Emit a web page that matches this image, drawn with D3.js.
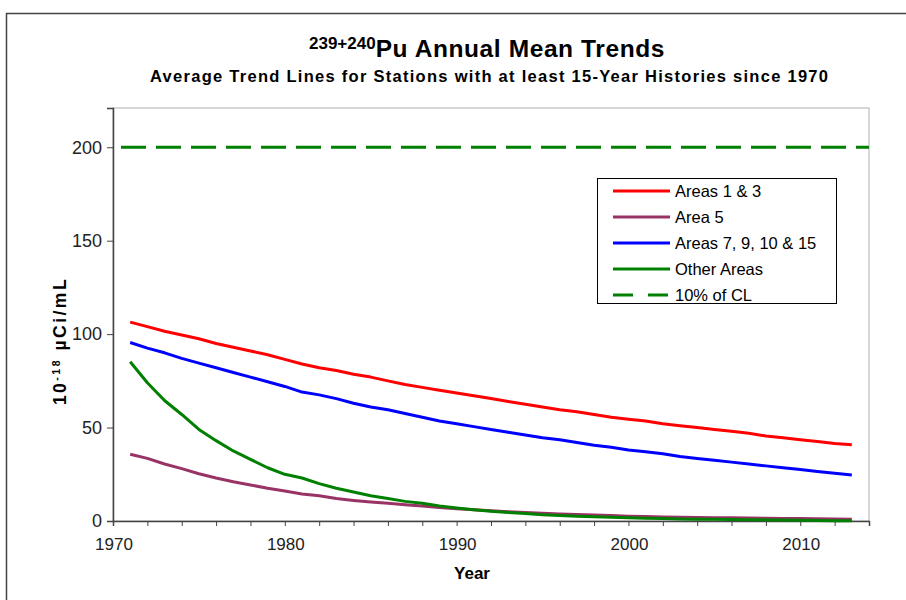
<!DOCTYPE html>
<html><head><meta charset="utf-8">
<script src="https://cdn.jsdelivr.net/npm/d3@7"></script>
<style>body{margin:0;background:#fff}svg{display:block;font-family:Arial,"Liberation Sans",sans-serif}</style>
</head><body><svg id="c" width="906" height="600"></svg>
<script>
const years = d3.range(1971, 2014);
const areas13 = [106.4,104,101.5,99.5,97.5,95,93,91,89,86.5,84,82,80.5,78.5,77,75,73,71.5,70,68.5,67,65.5,64,62.5,61,59.5,58.5,57,55.5,54.5,53.5,52,51,50,49,48,47,45.5,44.5,43.5,42.5,41.5,40.8];
const area5 = [35.7,33.5,30.5,28,25.3,23,21,19.3,17.5,16,14.5,13.5,12,11,10.2,9.5,8.7,8,7.2,6.5,6,5.5,5,4.6,4.2,3.8,3.5,3.2,2.9,2.6,2.4,2.2,2,1.9,1.8,1.7,1.6,1.5,1.4,1.3,1.2,1.1,1.0];
const areas7 = [95.5,92.5,90,87,84.5,82,79.5,77,74.5,72,69,67.5,65.5,63,61,59.5,57.5,55.5,53.5,52,50.5,49,47.5,46,44.5,43.5,42,40.5,39.5,38,37,36,34.5,33.5,32.5,31.5,30.5,29.5,28.5,27.5,26.5,25.5,24.6];
const otherAreas = [85.2,74,64.5,57,49,43,37.5,33,28.5,25,23,20,17.5,15.5,13.5,12,10.5,9.5,8,7,6,5.2,4.6,4,3.4,3,2.6,2.3,2,1.7,1.5,1.3,1.1,1,0.9,0.8,0.7,0.6,0.5,0.4,0.3,0.2,0.2];
const clLevel = 200;
const seriesNames = ["Areas 1 & 3","Area 5","Areas 7, 9, 10 & 15","Other Areas","10% of CL"];
const seriesColors = ["#ff0000","#993366","#0000ff","#008000","#008000"];
const yTicks = [0,50,100,150,200];
const xTicksMajor = [1970,1980,1990,2000,2010];

const svg = d3.select("#c");
svg.append("rect").attr("x",6.5).attr("y",13.5).attr("width",920).attr("height",620)
  .attr("fill","none").attr("stroke","#444").attr("stroke-width",1.5);

const x = d3.scaleLinear().domain([1970,2014]).range([113,869]);
const y = d3.scaleLinear().domain([0,221]).range([521,108]);

svg.append("rect").attr("x",x(1970)).attr("y",y(221)).attr("width",x(2014)-x(1970)).attr("height",y(0)-y(221))
  .attr("fill","#fff").attr("stroke","#b0b0b0").attr("stroke-width",1);

const xa = svg.append("g").attr("transform",`translate(0,${y(0)})`)
  .call(d3.axisBottom(x).tickValues(d3.range(1970,2015,2)).tickSize(5).tickFormat(""));
xa.select(".domain").attr("stroke","#444").attr("stroke-width",1.5);
xa.selectAll(".tick line").attr("stroke","#444");
svg.append("g").selectAll("text").data(xTicksMajor).join("text")
  .attr("x",d=>x(d)+1).attr("y",y(0)+29).attr("text-anchor","middle")
  .attr("font-size",17).attr("fill","#222").text(d=>d);

const ya = svg.append("g").attr("transform",`translate(${x(1970)},0)`)
  .call(d3.axisLeft(y).tickValues(yTicks).tickSize(6).tickPadding(5));
ya.select(".domain").attr("stroke","#444").attr("stroke-width",1.5);
ya.selectAll(".tick line").attr("stroke","#444");
ya.selectAll(".tick text").attr("font-size",18).attr("fill","#222").attr("font-family","Arial,'Liberation Sans',sans-serif");

svg.append("line").attr("x1",x(1970)).attr("x2",x(2014)).attr("y1",y(clLevel)).attr("y2",y(clLevel))
  .attr("stroke",seriesColors[4]).attr("stroke-width",3).attr("stroke-dasharray","25,10").attr("stroke-dashoffset",27);

const line = d3.line().x((d,i)=>x(years[i])).y(d=>y(d));
const data = [areas13, area5, areas7, otherAreas];
[2,0,1,3].forEach(k=>{
  svg.append("path").datum(data[k]).attr("d",line).attr("fill","none")
    .attr("stroke",seriesColors[k]).attr("stroke-width",3).attr("stroke-linejoin","round");
});

const t = svg.append("text").attr("x",487).attr("y",57).attr("text-anchor","middle")
  .attr("font-weight","bold").attr("fill","#000");
t.append("tspan").attr("font-size",17).attr("dy",-8).text("239+240");
t.append("tspan").attr("font-size",24.5).attr("dy",8).attr("letter-spacing",0.6).text("Pu Annual Mean Trends");
svg.append("text").attr("x",489).attr("y",82).attr("text-anchor","middle")
  .attr("font-weight","bold").attr("font-size",16.5).attr("fill","#000")
  .attr("textLength",678).attr("lengthAdjust","spacing")
  .text("Average Trend Lines for Stations with at least 15-Year Histories since 1970");

svg.append("text").attr("x",472).attr("y",579).attr("text-anchor","middle")
  .attr("font-weight","bold").attr("font-size",17).attr("fill","#000").text("Year");
const yl = svg.append("text").attr("transform","translate(66,341) rotate(-90)").attr("text-anchor","middle")
  .attr("font-weight","bold").attr("font-size",17.5).attr("fill","#000").attr("letter-spacing",2.5);
yl.append("tspan").text("10");
yl.append("tspan").attr("font-size",10.5).attr("dy",-6).text("-18");
yl.append("tspan").attr("dy",6).text(" µCi/mL");

const lg = svg.append("g");
lg.append("rect").attr("x",597.5).attr("y",178.5).attr("width",239).attr("height",125)
  .attr("fill","#fff").attr("stroke","#000").attr("stroke-width",1);
seriesNames.forEach((n,i)=>{
  const yy = 191 + i*26;
  lg.append("line").attr("x1",613).attr("x2",670).attr("y1",yy).attr("y2",yy)
    .attr("stroke",seriesColors[i]).attr("stroke-width",3)
    .attr("stroke-dasharray", i===4 ? "20,15" : null);
  lg.append("text").attr("x",675).attr("y",yy+6).attr("font-size",16.5).attr("fill","#000").text(n);
});
</script></body></html>
